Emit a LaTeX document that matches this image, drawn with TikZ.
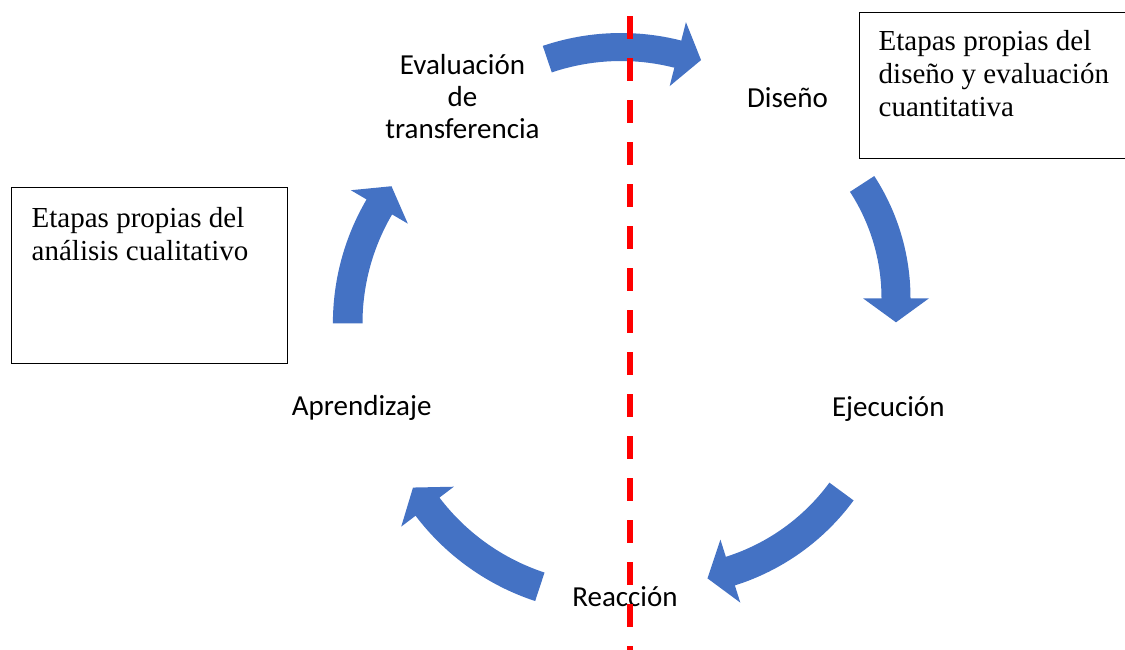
\documentclass[tikz,border=0pt]{standalone}
\usepackage{fontspec}
\setmainfont{Liberation Serif}
\newfontfamily\calfont{Carlito}
\usetikzlibrary{calc}
\definecolor{arrowblue}{HTML}{4472C4}
\definecolor{dashred}{HTML}{FF0000}
% #1 cx, #2 cy, #3 centre radius, #4 start angle, #5 end angle, #6 half width
\newcommand\cyclearrow[6]{%
  \begin{scope}[shift={(#1,#2)}]
    \fill[arrowblue] ({#4}:{#3+#6}) arc[start angle={#4}, end angle={#5}, radius={#3+#6}]
      -- ({#5}:{#3+33}) -- ($({#5}:{#3})+({#5-90}:24)$) -- ({#5}:{#3-33})
      -- ({#5}:{#3-#6}) arc[start angle={#5}, end angle={#4}, radius={#3-#6}] -- cycle;
  \end{scope}}
\tikzset{
  lab/.style={font=\calfont\fontsize{29}{32}\selectfont, inner sep=0pt, align=center, anchor=base},
  boxtext/.style={font=\fontsize{29}{33}\selectfont, inner sep=0pt, align=left, anchor=base west},
  framebox/.style={draw=black, line width=1.1pt, inner sep=0pt, anchor=north west},
  redline/.style={draw=dashred, line width=6pt, dash pattern=on 23pt off 19pt}
}
\begin{document}
\begin{tikzpicture}[x=1pt, y=1pt]
\useasboundingbox (0,0) rectangle (1125,-649);
% boxes
\node[framebox, minimum width=276pt, minimum height=176pt] (boxL) at (11,-187) {};
\node[framebox, minimum width=280pt, minimum height=146pt] (boxR) at (859,-12) {};
% (base anchor = baseline of the last line)
\node[boxtext] (txtL) at (31.5,-260) {Etapas propias del\\análisis cualitativo};
\node[boxtext] (txtR) at (878.5,-116.5) {Etapas propias del\\diseño y evaluación\\cuantitativa};
% arrows
\cyclearrow{621}{-277}{230}{108.7}{75.7}{14}
\cyclearrow{686}{-298.3}{210}{33}{0}{14.5}
\cyclearrow{664.2}{-361.3}{220}{-36.3}{-72.5}{15}
\cyclearrow{612.3}{-366.4}{232}{-108.2}{-142.8}{15}
\cyclearrow{577.7}{-323.3}{230}{180}{149.6}{14.8}
% labels
\node[lab] (eval) at (462.5,-138.3) {Evaluación\\de\\transferencia};
\node[lab] (dis) at (787.5,-107) {Diseño};
\node[lab] (eje) at (888.3,-416.7) {Ejecución};
\node[lab] (apr) at (361.7,-415.7) {Aprendizaje};
\node[lab] (rea) at (625,-606) {Reacción};
% dividing line
\coordinate (dtop) at (630,-16);
\coordinate (dbot) at (630,-680);
\draw[redline] (dtop) -- (dbot);
\end{tikzpicture}
\end{document}
